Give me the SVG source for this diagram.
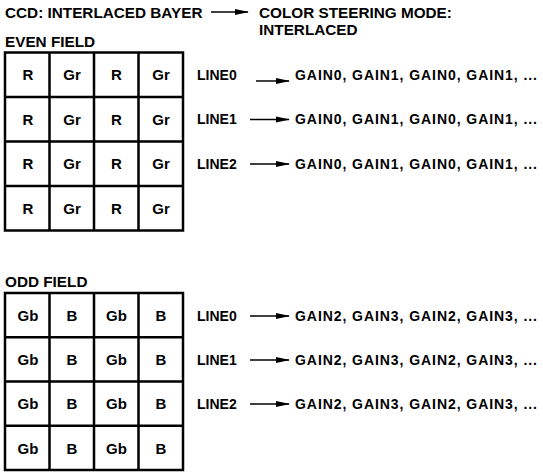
<svg xmlns="http://www.w3.org/2000/svg" width="543" height="472" viewBox="0 0 543 472">
<style>
text{font-family:"Liberation Sans",Arial,Helvetica,sans-serif;font-weight:bold;fill:#000}
.t{font-size:15.3px}
.c{font-size:15px;text-anchor:middle}
.l{font-size:14px}
.grid{fill:#fff;stroke:#000;stroke-width:2.5}
.conn line{stroke:#000;stroke-width:1.5}
</style>
<defs>
<marker id="ah" markerWidth="14" markerHeight="7" refX="13" refY="3.5" orient="auto" markerUnits="userSpaceOnUse">
<path d="M0,0.6 L14,3.5 L0,6.4 Z" fill="#000"/>
</marker>
</defs>
<g id="header">
<text class="t" x="5" y="17.5">CCD: INTERLACED BAYER</text>
<text class="t" x="259" y="17.5">COLOR STEERING MODE:</text>
<text class="t" x="259" y="34.5">INTERLACED</text>
</g>
<g id="even-field">
<text class="t" x="5" y="46.5">EVEN FIELD</text>
<rect class="grid" x="5" y="52.5" width="178" height="178"/>
<path class="grid" d="M49.5,52.5V230.5M94,52.5V230.5M138.5,52.5V230.5M5,97H183M5,141.5H183M5,186H183"/>
<text class="c" x="28" y="80">R</text><text class="c" x="72" y="80">Gr</text><text class="c" x="116.5" y="80">R</text><text class="c" x="161" y="80">Gr</text>
<text class="c" x="28" y="124.5">R</text><text class="c" x="72" y="124.5">Gr</text><text class="c" x="116.5" y="124.5">R</text><text class="c" x="161" y="124.5">Gr</text>
<text class="c" x="28" y="169">R</text><text class="c" x="72" y="169">Gr</text><text class="c" x="116.5" y="169">R</text><text class="c" x="161" y="169">Gr</text>
<text class="c" x="28" y="213.5">R</text><text class="c" x="72" y="213.5">Gr</text><text class="c" x="116.5" y="213.5">R</text><text class="c" x="161" y="213.5">Gr</text>
</g>
<g id="even-lines">
<text class="l" x="197" y="80">LINE0</text>
<text class="l" x="197" y="124">LINE1</text>
<text class="l" x="197" y="168.5">LINE2</text>
<text class="l" x="295" y="80" textLength="242" lengthAdjust="spacing">GAIN0, GAIN1, GAIN0, GAIN1, ...</text>
<text class="l" x="295" y="124" textLength="242" lengthAdjust="spacing">GAIN0, GAIN1, GAIN0, GAIN1, ...</text>
<text class="l" x="295" y="168.5" textLength="242" lengthAdjust="spacing">GAIN0, GAIN1, GAIN0, GAIN1, ...</text>
</g>
<g id="odd-field">
<text class="t" x="5" y="287">ODD FIELD</text>
<rect class="grid" x="5" y="293" width="178" height="177"/>
<path class="grid" d="M49.5,293V470M94,293V470M138.5,293V470M5,337.3H183M5,381.5H183M5,425.8H183"/>
<text class="c" x="28" y="320.5">Gb</text><text class="c" x="72" y="320.5">B</text><text class="c" x="116.5" y="320.5">Gb</text><text class="c" x="161" y="320.5">B</text>
<text class="c" x="28" y="365">Gb</text><text class="c" x="72" y="365">B</text><text class="c" x="116.5" y="365">Gb</text><text class="c" x="161" y="365">B</text>
<text class="c" x="28" y="409">Gb</text><text class="c" x="72" y="409">B</text><text class="c" x="116.5" y="409">Gb</text><text class="c" x="161" y="409">B</text>
<text class="c" x="28" y="453.5">Gb</text><text class="c" x="72" y="453.5">B</text><text class="c" x="116.5" y="453.5">Gb</text><text class="c" x="161" y="453.5">B</text>
</g>
<g id="odd-lines">
<text class="l" x="197" y="320.5">LINE0</text>
<text class="l" x="197" y="364.5">LINE1</text>
<text class="l" x="197" y="408.5">LINE2</text>
<text class="l" x="295" y="320.5" textLength="242" lengthAdjust="spacing">GAIN2, GAIN3, GAIN2, GAIN3, ...</text>
<text class="l" x="295" y="364.5" textLength="242" lengthAdjust="spacing">GAIN2, GAIN3, GAIN2, GAIN3, ...</text>
<text class="l" x="295" y="408.5" textLength="242" lengthAdjust="spacing">GAIN2, GAIN3, GAIN2, GAIN3, ...</text>
</g>
<g id="connectors" class="conn">
<line x1="211" y1="12" x2="248" y2="12" marker-end="url(#ah)"/>
<line x1="256" y1="81" x2="289" y2="81" marker-end="url(#ah)"/>
<line x1="250" y1="119.5" x2="289" y2="119.5" marker-end="url(#ah)"/>
<line x1="250" y1="164" x2="289" y2="164" marker-end="url(#ah)"/>
<line x1="250" y1="316" x2="289" y2="316" marker-end="url(#ah)"/>
<line x1="250" y1="360" x2="289" y2="360" marker-end="url(#ah)"/>
<line x1="250" y1="404" x2="289" y2="404" marker-end="url(#ah)"/>
</g>
</svg>
